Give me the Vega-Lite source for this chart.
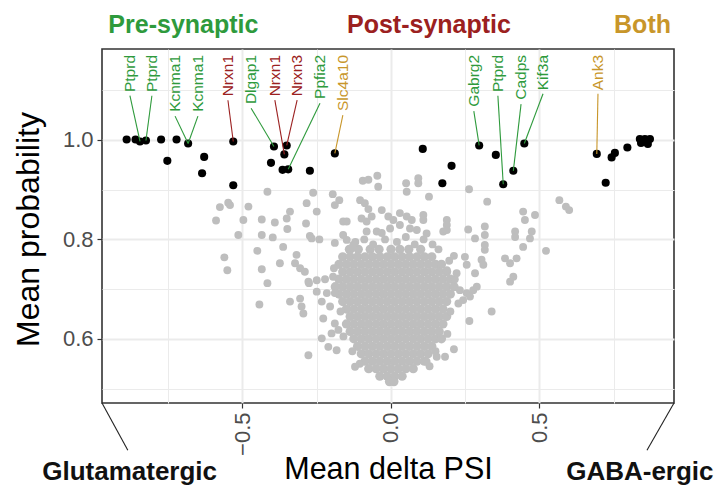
{
"$schema":"https://vega.github.io/schema/vega-lite/v6.json",
"width":572,"height":354,
"autosize":{"type":"none"},
"padding":{"left":102,"top":49,"right":42,"bottom":83},
"background":"white",
"config":{"font":"Liberation Sans","view":{"stroke":"#333333","strokeWidth":1.6}},
"datasets":{
"core":[
{"x":-0.14,"y":0.78},{"x":-0.11,"y":0.78},{"x":-0.07,"y":0.78},{"x":-0.04,"y":0.78},{"x":0.0,"y":0.78},{"x":0.03,"y":0.78},{"x":0.06,"y":0.78},{"x":0.1,"y":0.78},
{"x":-0.1625,"y":0.765},{"x":-0.1375,"y":0.765},{"x":-0.1125,"y":0.765},{"x":-0.0875,"y":0.765},{"x":-0.0625,"y":0.765},{"x":-0.0375,"y":0.765},{"x":-0.0125,"y":0.765},{"x":0.0125,"y":0.765},{"x":0.0375,"y":0.765},{"x":0.0625,"y":0.765},{"x":0.0875,"y":0.765},{"x":0.1125,"y":0.765},{"x":0.1375,"y":0.765},
{"x":-0.175,"y":0.75},{"x":-0.15,"y":0.75},{"x":-0.125,"y":0.75},{"x":-0.1,"y":0.75},{"x":-0.075,"y":0.75},{"x":-0.05,"y":0.75},{"x":-0.025,"y":0.75},{"x":0,"y":0.75},{"x":0.025,"y":0.75},{"x":0.05,"y":0.75},{"x":0.075,"y":0.75},{"x":0.1,"y":0.75},{"x":0.125,"y":0.75},{"x":0.15,"y":0.75},{"x":0.17,"y":0.75},
{"x":-0.1625,"y":0.735},{"x":-0.1375,"y":0.735},{"x":-0.1125,"y":0.735},{"x":-0.0875,"y":0.735},{"x":-0.0625,"y":0.735},{"x":-0.0375,"y":0.735},{"x":-0.0125,"y":0.735},{"x":0.0125,"y":0.735},{"x":0.0375,"y":0.735},{"x":0.0625,"y":0.735},{"x":0.0875,"y":0.735},{"x":0.1125,"y":0.735},{"x":0.1375,"y":0.735},{"x":0.1625,"y":0.735},{"x":0.1875,"y":0.735},
{"x":-0.175,"y":0.72},{"x":-0.15,"y":0.72},{"x":-0.125,"y":0.72},{"x":-0.1,"y":0.72},{"x":-0.075,"y":0.72},{"x":-0.05,"y":0.72},{"x":-0.025,"y":0.72},{"x":0,"y":0.72},{"x":0.025,"y":0.72},{"x":0.05,"y":0.72},{"x":0.075,"y":0.72},{"x":0.1,"y":0.72},{"x":0.125,"y":0.72},{"x":0.15,"y":0.72},{"x":0.175,"y":0.72},{"x":0.2,"y":0.72},
{"x":-0.1875,"y":0.705},{"x":-0.1625,"y":0.705},{"x":-0.1375,"y":0.705},{"x":-0.1125,"y":0.705},{"x":-0.0875,"y":0.705},{"x":-0.0625,"y":0.705},{"x":-0.0375,"y":0.705},{"x":-0.0125,"y":0.705},{"x":0.0125,"y":0.705},{"x":0.0375,"y":0.705},{"x":0.0625,"y":0.705},{"x":0.0875,"y":0.705},{"x":0.1125,"y":0.705},{"x":0.1375,"y":0.705},{"x":0.1625,"y":0.705},{"x":0.1875,"y":0.705},{"x":0.2125,"y":0.705},
{"x":-0.175,"y":0.69},{"x":-0.15,"y":0.69},{"x":-0.125,"y":0.69},{"x":-0.1,"y":0.69},{"x":-0.075,"y":0.69},{"x":-0.05,"y":0.69},{"x":-0.025,"y":0.69},{"x":0,"y":0.69},{"x":0.025,"y":0.69},{"x":0.05,"y":0.69},{"x":0.075,"y":0.69},{"x":0.1,"y":0.69},{"x":0.125,"y":0.69},{"x":0.15,"y":0.69},{"x":0.175,"y":0.69},{"x":0.2,"y":0.69},
{"x":-0.1625,"y":0.675},{"x":-0.1375,"y":0.675},{"x":-0.1125,"y":0.675},{"x":-0.0875,"y":0.675},{"x":-0.0625,"y":0.675},{"x":-0.0375,"y":0.675},{"x":-0.0125,"y":0.675},{"x":0.0125,"y":0.675},{"x":0.0375,"y":0.675},{"x":0.0625,"y":0.675},{"x":0.0875,"y":0.675},{"x":0.1125,"y":0.675},{"x":0.1375,"y":0.675},{"x":0.1625,"y":0.675},{"x":0.1875,"y":0.675},
{"x":-0.15,"y":0.66},{"x":-0.125,"y":0.66},{"x":-0.1,"y":0.66},{"x":-0.075,"y":0.66},{"x":-0.05,"y":0.66},{"x":-0.025,"y":0.66},{"x":0,"y":0.66},{"x":0.025,"y":0.66},{"x":0.05,"y":0.66},{"x":0.075,"y":0.66},{"x":0.1,"y":0.66},{"x":0.125,"y":0.66},{"x":0.15,"y":0.66},{"x":0.175,"y":0.66},
{"x":-0.1375,"y":0.645},{"x":-0.1125,"y":0.645},{"x":-0.0875,"y":0.645},{"x":-0.0625,"y":0.645},{"x":-0.0375,"y":0.645},{"x":-0.0125,"y":0.645},{"x":0.0125,"y":0.645},{"x":0.0375,"y":0.645},{"x":0.0625,"y":0.645},{"x":0.0875,"y":0.645},{"x":0.1125,"y":0.645},{"x":0.1375,"y":0.645},{"x":0.1625,"y":0.645},{"x":0.1875,"y":0.645},
{"x":-0.15,"y":0.63},{"x":-0.125,"y":0.63},{"x":-0.1,"y":0.63},{"x":-0.075,"y":0.63},{"x":-0.05,"y":0.63},{"x":-0.025,"y":0.63},{"x":0,"y":0.63},{"x":0.025,"y":0.63},{"x":0.05,"y":0.63},{"x":0.075,"y":0.63},{"x":0.1,"y":0.63},{"x":0.125,"y":0.63},{"x":0.15,"y":0.63},{"x":0.175,"y":0.63},
{"x":-0.1375,"y":0.615},{"x":-0.1125,"y":0.615},{"x":-0.0875,"y":0.615},{"x":-0.0625,"y":0.615},{"x":-0.0375,"y":0.615},{"x":-0.0125,"y":0.615},{"x":0.0125,"y":0.615},{"x":0.0375,"y":0.615},{"x":0.0625,"y":0.615},{"x":0.0875,"y":0.615},{"x":0.1125,"y":0.615},{"x":0.1375,"y":0.615},{"x":0.1625,"y":0.615},
{"x":-0.125,"y":0.6},{"x":-0.1,"y":0.6},{"x":-0.075,"y":0.6},{"x":-0.05,"y":0.6},{"x":-0.025,"y":0.6},{"x":0,"y":0.6},{"x":0.025,"y":0.6},{"x":0.05,"y":0.6},{"x":0.075,"y":0.6},{"x":0.1,"y":0.6},{"x":0.125,"y":0.6},{"x":0.15,"y":0.6},{"x":0.17,"y":0.6},
{"x":-0.1125,"y":0.585},{"x":-0.0875,"y":0.585},{"x":-0.0625,"y":0.585},{"x":-0.0375,"y":0.585},{"x":-0.0125,"y":0.585},{"x":0.0125,"y":0.585},{"x":0.0375,"y":0.585},{"x":0.0625,"y":0.585},{"x":0.0875,"y":0.585},{"x":0.1125,"y":0.585},{"x":0.1375,"y":0.585},
{"x":-0.1,"y":0.57},{"x":-0.075,"y":0.57},{"x":-0.05,"y":0.57},{"x":-0.025,"y":0.57},{"x":0,"y":0.57},{"x":0.025,"y":0.57},{"x":0.05,"y":0.57},{"x":0.075,"y":0.57},{"x":0.1,"y":0.57},{"x":0.125,"y":0.57},
{"x":-0.0875,"y":0.555},{"x":-0.0625,"y":0.555},{"x":-0.0375,"y":0.555},{"x":-0.0125,"y":0.555},{"x":0.0125,"y":0.555},{"x":0.0375,"y":0.555},{"x":0.0625,"y":0.555},{"x":0.0875,"y":0.555},{"x":0.1125,"y":0.555},
{"x":-0.075,"y":0.54},{"x":-0.05,"y":0.54},{"x":-0.025,"y":0.54},{"x":0,"y":0.54},{"x":0.025,"y":0.54},{"x":0.05,"y":0.54},{"x":0.075,"y":0.54},
{"x":-0.0375,"y":0.525},{"x":-0.0125,"y":0.525},{"x":0.0125,"y":0.525},{"x":0.0375,"y":0.525},
{"x":-0.005,"y":0.514},{"x":0.01,"y":0.514}
],
"bg":[
{"x":-0.12,"y":0.795},{"x":-0.09,"y":0.8},{"x":-0.06,"y":0.79},{"x":-0.02,"y":0.8},{"x":0.02,"y":0.795},{"x":0.05,"y":0.805},{"x":0.08,"y":0.79},{"x":0.11,"y":0.8},{"x":0.14,"y":0.79},{"x":0.16,"y":0.78},{"x":-0.135,"y":0.78},
{"x":-0.195,"y":0.725},{"x":0.215,"y":0.72},{"x":-0.17,"y":0.655},{"x":0.2,"y":0.655},{"x":-0.16,"y":0.605},{"x":0.19,"y":0.61},{"x":-0.13,"y":0.575},{"x":0.15,"y":0.575},{"x":-0.105,"y":0.55},{"x":0.13,"y":0.545},
{"x":-0.095,"y":0.918},{"x":-0.076,"y":0.92},{"x":-0.046,"y":0.928},{"x":-0.043,"y":0.906},{"x":0.051,"y":0.913},{"x":0.092,"y":0.923},{"x":0.092,"y":0.913},{"x":0.053,"y":0.896},{"x":-0.416,"y":0.896},{"x":-0.262,"y":0.894},{"x":-0.196,"y":0.891},{"x":-0.174,"y":0.879},{"x":-0.189,"y":0.869},{"x":-0.104,"y":0.879},{"x":-0.088,"y":0.873},{"x":-0.076,"y":0.861},{"x":-0.065,"y":0.846},{"x":-0.031,"y":0.859},{"x":-0.009,"y":0.846},{"x":0.008,"y":0.839},{"x":0.03,"y":0.853},{"x":0.053,"y":0.846},{"x":0.07,"y":0.839},{"x":0.128,"y":0.886},{"x":0.263,"y":0.901},{"x":0.324,"y":0.876},{"x":0.567,"y":0.879},{"x":0.589,"y":0.866},{"x":0.6,"y":0.859},{"x":-0.576,"y":0.865},{"x":-0.548,"y":0.874},{"x":-0.542,"y":0.869},{"x":-0.48,"y":0.866},{"x":-0.589,"y":0.838},{"x":-0.497,"y":0.839},{"x":-0.435,"y":0.84},{"x":-0.391,"y":0.834},{"x":-0.351,"y":0.842},{"x":-0.34,"y":0.856},{"x":-0.284,"y":0.873},{"x":-0.25,"y":0.856},{"x":-0.286,"y":0.832},{"x":-0.349,"y":0.821},{"x":-0.161,"y":0.836},{"x":-0.149,"y":0.836},{"x":-0.099,"y":0.842},{"x":-0.082,"y":0.836},{"x":0.109,"y":0.849},{"x":0.109,"y":0.839},{"x":0.188,"y":0.839},{"x":0.188,"y":0.829},{"x":0.445,"y":0.856},{"x":0.451,"y":0.839},{"x":0.485,"y":0.849},{"x":-0.514,"y":0.809},{"x":-0.435,"y":0.809},{"x":-0.398,"y":0.804},{"x":-0.273,"y":0.807},{"x":-0.267,"y":0.802},{"x":-0.241,"y":0.8},{"x":-0.189,"y":0.793},{"x":-0.161,"y":0.809},{"x":-0.149,"y":0.799},{"x":-0.127,"y":0.789},{"x":-0.082,"y":0.816},{"x":-0.048,"y":0.816},{"x":-0.031,"y":0.813},{"x":-0.003,"y":0.822},{"x":0.03,"y":0.829},{"x":0.064,"y":0.822},{"x":0.087,"y":0.819},{"x":0.12,"y":0.812},{"x":0.176,"y":0.816},{"x":0.188,"y":0.819},{"x":0.26,"y":0.82},{"x":0.283,"y":0.802},{"x":0.316,"y":0.826},{"x":0.316,"y":0.809},{"x":0.418,"y":0.816},{"x":0.418,"y":0.805},{"x":0.468,"y":0.802},{"x":0.474,"y":0.816},{"x":0.445,"y":0.785},{"x":0.522,"y":0.777},{"x":-0.561,"y":0.764},{"x":-0.551,"y":0.738},{"x":-0.45,"y":0.777},{"x":-0.435,"y":0.74},{"x":-0.416,"y":0.712},{"x":-0.443,"y":0.669},{"x":-0.363,"y":0.785},{"x":-0.374,"y":0.752},{"x":-0.318,"y":0.769},{"x":-0.323,"y":0.752},{"x":-0.306,"y":0.742},{"x":-0.29,"y":0.735},{"x":-0.278,"y":0.715},{"x":-0.25,"y":0.718},{"x":-0.222,"y":0.72},{"x":-0.192,"y":0.742},{"x":-0.34,"y":0.675},{"x":-0.306,"y":0.681},{"x":-0.301,"y":0.665},{"x":-0.295,"y":0.651},{"x":-0.278,"y":0.567},{"x":-0.233,"y":0.601},{"x":-0.211,"y":0.584},{"x":-0.183,"y":0.577},{"x":-0.121,"y":0.544},{"x":0.196,"y":0.757},{"x":0.212,"y":0.767},{"x":0.188,"y":0.738},{"x":0.221,"y":0.732},{"x":0.249,"y":0.765},{"x":0.255,"y":0.749},{"x":0.283,"y":0.732},{"x":0.305,"y":0.759},{"x":0.311,"y":0.749},{"x":0.316,"y":0.779},{"x":0.316,"y":0.789},{"x":0.384,"y":0.762},{"x":0.401,"y":0.752},{"x":0.423,"y":0.762},{"x":0.401,"y":0.715},{"x":0.412,"y":0.725},{"x":0.339,"y":0.655},{"x":0.264,"y":0.636},{"x":0.212,"y":0.579},{"x":0.232,"y":0.698},{"x":0.255,"y":0.692},{"x":0.277,"y":0.698},{"x":0.266,"y":0.685},{"x":0.289,"y":0.705},{"x":0.243,"y":0.678},{"x":0.227,"y":0.671},{"x":0.154,"y":0.564},{"x":0.182,"y":0.564},{"x":0.12,"y":0.554},{"x":-0.276,"y":0.712},{"x":-0.25,"y":0.695},{"x":-0.216,"y":0.692},{"x":-0.189,"y":0.692},{"x":-0.233,"y":0.675},{"x":-0.205,"y":0.665},{"x":-0.228,"y":0.641},{"x":-0.189,"y":0.631},{"x":-0.177,"y":0.618},{"x":-0.2,"y":0.611}
],
"hl":[
{"x":-0.89,"y":1.001},{"x":-0.86,"y":1.001},{"x":-0.845,"y":0.997},{"x":-0.825,"y":0.999},{"x":-0.774,"y":1.001},{"x":-0.722,"y":1.001},{"x":-0.683,"y":0.993},{"x":-0.753,"y":0.958},{"x":-0.629,"y":0.966},{"x":-0.636,"y":0.933},{"x":-0.531,"y":0.997},{"x":-0.531,"y":0.909},{"x":-0.394,"y":0.987},{"x":-0.351,"y":0.989},{"x":-0.359,"y":0.971},{"x":-0.404,"y":0.954},{"x":-0.365,"y":0.94},{"x":-0.346,"y":0.941},{"x":-0.273,"y":0.938},{"x":-0.189,"y":0.973},
{"x":0.107,"y":0.982},{"x":0.297,"y":0.989},{"x":0.353,"y":0.97},{"x":0.204,"y":0.948},{"x":0.173,"y":0.913},{"x":0.412,"y":0.938},{"x":0.378,"y":0.911},{"x":0.449,"y":0.993},{"x":0.693,"y":0.972},{"x":0.723,"y":0.914},{"x":0.743,"y":0.965},{"x":0.754,"y":0.974},{"x":0.796,"y":0.985},{"x":0.838,"y":1.002},{"x":0.855,"y":1.002},{"x":0.872,"y":1.002},{"x":0.865,"y":0.992},{"x":0.842,"y":0.994}
],
"labels":[
{"gene":"Ptprd","grp":"Pre","x":-0.879,"y":1.089,"x2":-0.845,"y2":0.997},
{"gene":"Ptprd","grp":"Pre","x":-0.805,"y":1.089,"x2":-0.825,"y2":0.999},
{"gene":"Kcnma1","grp":"Pre","x":-0.727,"y":1.048,"x2":-0.683,"y2":0.993},
{"gene":"Kcnma1","grp":"Pre","x":-0.65,"y":1.048,"x2":-0.683,"y2":0.993},
{"gene":"Nrxn1","grp":"Post","x":-0.549,"y":1.08,"x2":-0.531,"y2":0.997},
{"gene":"Dlgap1","grp":"Pre","x":-0.471,"y":1.064,"x2":-0.394,"y2":0.987},
{"gene":"Nrxn1","grp":"Post","x":-0.391,"y":1.08,"x2":-0.359,"y2":0.971},
{"gene":"Nrxn3","grp":"Post","x":-0.316,"y":1.08,"x2":-0.351,"y2":0.989},
{"gene":"Ppfia2","grp":"Pre","x":-0.239,"y":1.074,"x2":-0.346,"y2":0.941},
{"gene":"Slc4a10","grp":"Both","x":-0.162,"y":1.05,"x2":-0.189,"y2":0.973},
{"gene":"Gabrg2","grp":"Pre","x":0.279,"y":1.058,"x2":0.297,"y2":0.989},
{"gene":"Ptprd","grp":"Pre","x":0.36,"y":1.089,"x2":0.378,"y2":0.911},
{"gene":"Cadps","grp":"Pre","x":0.438,"y":1.072,"x2":0.412,"y2":0.938},
{"gene":"Kif3a","grp":"Pre","x":0.512,"y":1.093,"x2":0.449,"y2":0.993},
{"gene":"Ank3","grp":"Both","x":0.697,"y":1.093,"x2":0.693,"y2":0.972}
],
"heads":[
{"title":"Pre-synaptic","grp":"Pre","x":-0.699,"y":1.215},
{"title":"Post-synaptic","grp":"Post","x":0.128,"y":1.215},
{"title":"Both","grp":"Both","x":0.847,"y":1.215}
],
"sides":[
{"name":"Glutamatergic","x":-0.973,"y":0.471,"x2":-0.886,"y2":0.376,"tx":-0.88},
{"name":"GABA-ergic","x":0.953,"y":0.471,"x2":0.862,"y2":0.376,"tx":0.838}
]
},
"encoding":{
"x":{"field":"x","type":"quantitative","scale":{"domain":[-0.973,0.953],"nice":false,"zero":false},
"axis":{"title":"Mean delta PSI","values":[-0.75,-0.5,-0.25,0,0.25,0.5,0.75],
"labelExpr":"datum.value == 0 ? '0.0' : datum.value == 0.5 ? '0.5' : datum.value == -0.5 ? '\u22120.5' : ''",
"labelAngle":-90,"labelAlign":"right","labelBaseline":"middle","labelFontSize":22,"labelColor":"#4d4d4d","labelPadding":4,"labelOverlap":false,"labelFlush":false,
"tickSize":5,"tickColor":"#333333","tickWidth":1.2,
"tickOpacity":{"condition":{"test":"datum.value == 0 || abs(datum.value) == 0.5","value":1},"value":0},
"grid":true,"gridColor":"#ebebeb","gridWidth":{"condition":{"test":"datum.value == 0 || abs(datum.value) == 0.5","value":2},"value":1},
"domain":false,"titleFontSize":30.5,"titleFontWeight":"normal","titleColor":"#000000","titleBaseline":"alphabetic","titleY":75}},
"y":{"field":"y","type":"quantitative","scale":{"domain":[0.471,1.183],"nice":false,"zero":false},
"axis":{"title":"Mean probability","values":[0.5,0.6,0.7,0.8,0.9,1.0,1.1],
"labelExpr":"(datum.value == 0.6 || datum.value == 0.8 || datum.value == 1) ? format(datum.value, '.1f') : ''",
"labelFontSize":22,"labelColor":"#4d4d4d","labelPadding":4,"labelOverlap":false,"labelFlush":false,
"tickSize":5,"tickColor":"#333333","tickWidth":1.2,
"tickOpacity":{"condition":{"test":"datum.value == 0.6 || datum.value == 0.8 || datum.value == 1","value":1},"value":0},
"grid":true,"gridColor":"#ebebeb","gridWidth":{"condition":{"test":"datum.value == 0.6 || datum.value == 0.8 || datum.value == 1","value":2},"value":1},
"domain":false,"titleFontSize":32,"titleFontWeight":"normal","titleColor":"#000000","titleBaseline":"alphabetic","titleX":-64,"titleY":180}}
},
"layer":[
{"data":{"name":"core"},"mark":{"type":"circle","size":85,"opacity":1,"color":"#bebebe"}},
{"data":{"name":"bg"},"mark":{"type":"circle","size":62,"opacity":1,"color":"#bebebe"}},
{"data":{"name":"hl"},"mark":{"type":"circle","size":66,"opacity":1,"color":"#000000"}},
{"data":{"name":"labels"},"mark":{"type":"rule","strokeWidth":1.1},
 "encoding":{"x2":{"field":"x2"},"y2":{"field":"y2"},
 "color":{"field":"grp","type":"nominal","scale":{"domain":["Pre","Post","Both"],"range":["#2e9a3c","#9b2020","#c8962a"]},"legend":null}}},
{"data":{"name":"labels"},"mark":{"type":"text","angle":270,"align":"right","baseline":"middle","fontSize":15.5,"font":"Liberation Sans"},
 "encoding":{"y":{"datum":1.171,"type":"quantitative"},"text":{"field":"gene"},
 "color":{"field":"grp","type":"nominal","legend":null}}},
{"data":{"name":"heads"},"mark":{"type":"text","align":"center","baseline":"alphabetic","fontSize":25,"fontWeight":"bold","font":"Liberation Sans","clip":false},
 "encoding":{"text":{"field":"title"},
 "color":{"field":"grp","type":"nominal","legend":null}}},
{"data":{"name":"sides"},"mark":{"type":"rule","strokeWidth":1.1,"color":"#222222"},
 "encoding":{"x2":{"field":"x2"},"y2":{"field":"y2"}}},
{"data":{"name":"sides"},"mark":{"type":"text","align":"center","baseline":"alphabetic","fontSize":26,"fontWeight":"bold","font":"Liberation Sans","color":"#111111"},
 "encoding":{"x":{"field":"tx","type":"quantitative"},"y":{"datum":0.316,"type":"quantitative"},"text":{"field":"name"}}}
]
}
